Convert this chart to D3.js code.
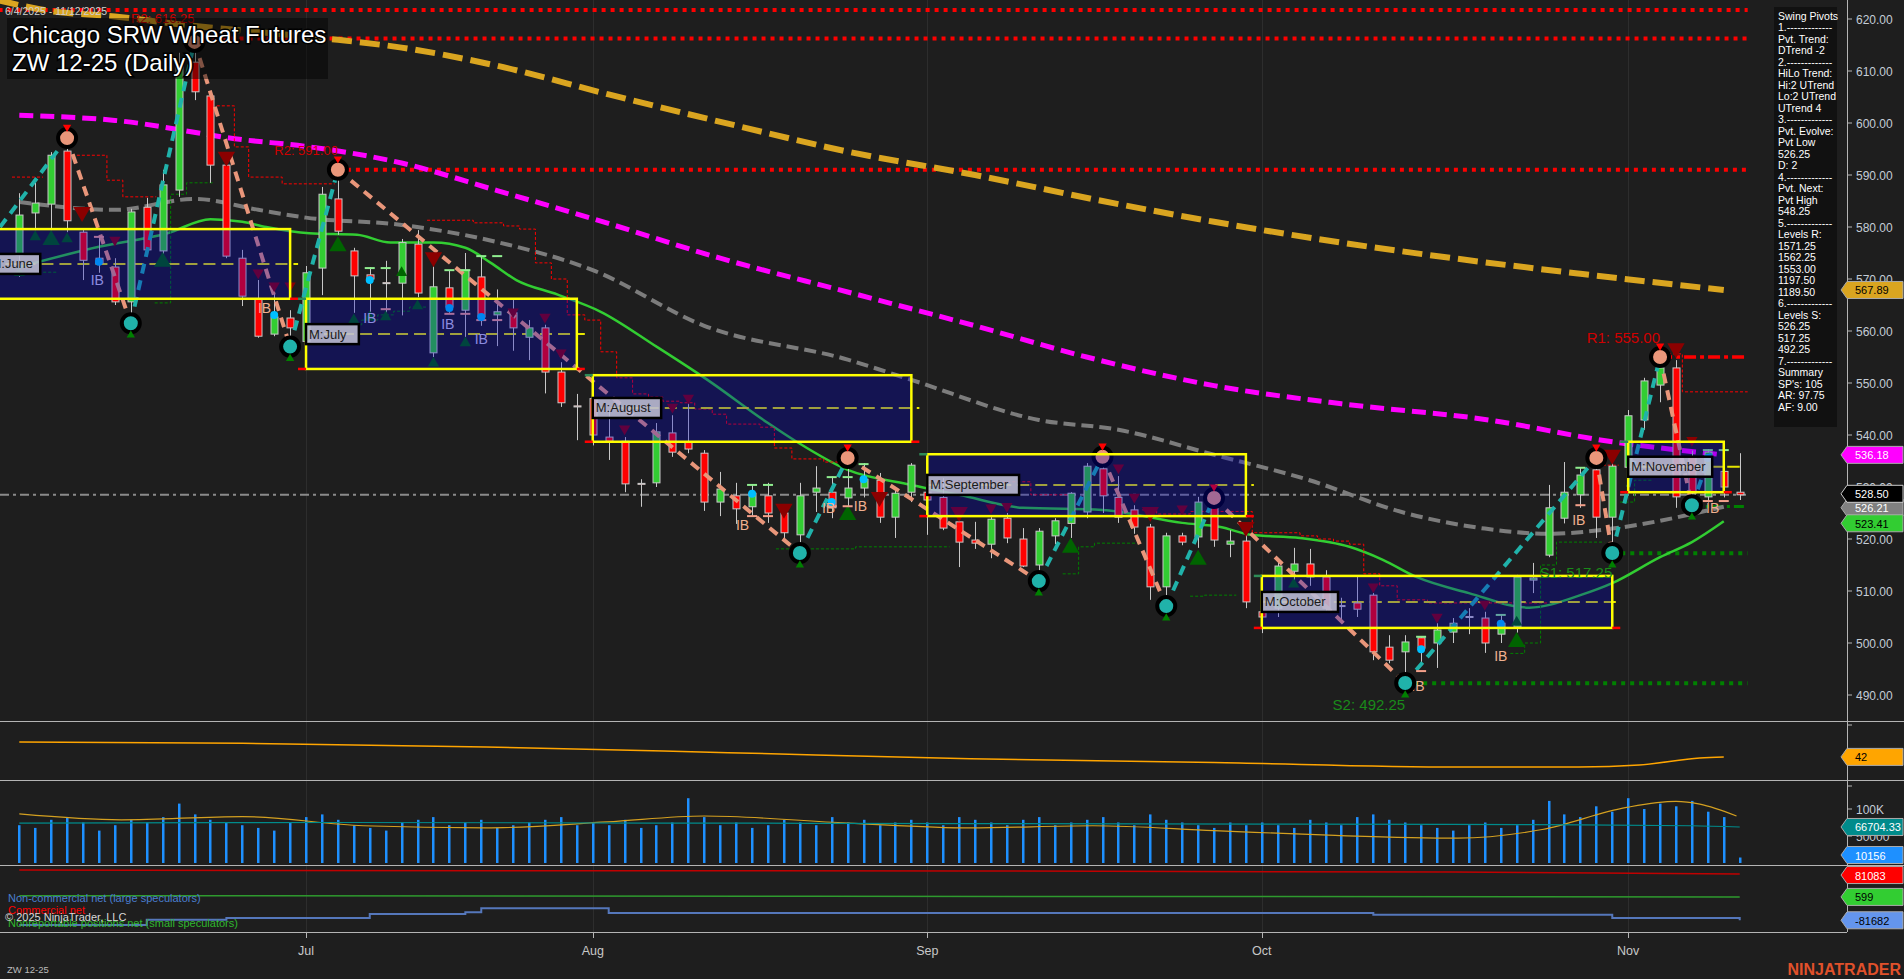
<!DOCTYPE html>
<html><head><meta charset="utf-8">
<script src="https://cdn.jsdelivr.net/npm/d3@7"></script>
<style>
body{margin:0;background:#1e1e1e;overflow:hidden}
svg{display:block}
text{font-family:"Liberation Sans",Arial,sans-serif}
</style></head>
<body><svg id="c" width="1904" height="979"></svg>
<script>
// ---------------- DATA ----------------
const opens=[574.6,582.7,584.4,594.6,579,574,572.3,565.6,583.8,575.4,
587.1,611.7,605.2,591.9,574,566.2,559.4,562.5,558,572.1,
585.4,575.4,570.8,569.3,569.2,576.7,555.8,568.3,564,570.4,
563.1,563.5,558.8,560.6,552.1,545.6,547,539.6,538.8,530.7,
530.8,540.4,538.7,536.5,527.1,528.3,526.2,528.3,525,520.8,
529,529,527.9,529.8,531.3,524.2,529,529,528,523.3,
519.8,519,524,520,515,520.6,523,525.2,533.5,528,
525.6,522.3,510.8,520.6,520.4,527,519,519.6,506,506.7,
513.8,515.2,512.7,507.2,507.7,509.2,499.2,498.3,501,500,
502.1,505.1,504.8,501.7,503.1,512.1,516.9,524,528.5,533.3,
524.2,533.8,542.9,549.6,552.9,535.8,528.1,533,529];
const highs=[586.5,588.5,594.4,596.5,579.5,577.9,574,583.5,585.6,591,
613.5,615,606,592.5,575.6,569.8,567.5,564,572.5,587.7,
590,576,572.3,573.5,577.7,579.4,572.5,571.7,575,574.2,
568,566,562.1,561.2,554,547.9,549,544.8,539.6,531.5,
542.3,543.8,546.3,537.1,532.9,530.8,530.4,530.8,526.2,530.8,
534,532,534.5,534.6,532.7,530,534.6,531,531.7,525.6,
523.3,524.2,525,522.1,522.1,524,529,534.6,536.5,532.1,
526.5,522.9,521.2,521.2,528.1,528,521.7,521,509.6,515.6,
518.3,518.1,514,508.7,512.7,509.6,501.5,501.5,501.2,503.8,
504.8,506.7,506,505.4,513.1,515.4,530.4,534.8,533.7,535.5,
535,544.8,551,555,554.4,537,537.3,538,536.5];
const lows=[570.4,579.4,579.4,579,569.8,571.2,565,562.5,574.6,574.8,
585.8,604.4,588.5,574,564.8,558.7,559,558,557.5,566.9,
578.5,563.5,563.5,563.5,563,566.5,555,563.5,558.8,561,
557.1,556.2,554.4,548,545.4,539,538,535.2,529,526.2,
530,535.8,536.5,525.4,524.4,522.9,524.5,523.1,519.5,518.5,
525.2,524,525,528,523.1,520.2,527.1,520.8,521.7,514.6,
518.1,516.3,519.2,514.6,513,519,520.2,524,525,523.1,
521,508.3,508.5,518.8,518.3,518.5,516.5,506.7,501.9,505,
512.1,511,505.8,504.6,505,496.7,496.1,493.5,496,495.2,
500,501.7,498.1,500,502,509.6,516.5,523,526,520.2,
518.5,532,541,546.3,526,526.5,527,528,527.5];
const closes=[582.3,584.6,593.8,581.2,573.6,573,565.6,582.9,575.6,588.1,
611.2,606,591.9,574.4,566.7,559,562.7,560.6,571.2,586.3,
579.2,570.6,570,569.2,577,567.3,568.5,564.6,571.7,562.7,
563.7,560.6,560.6,552.1,546.2,545.4,540,538.8,530.6,530.6,
540.6,536.7,537.3,527.1,529.6,525.8,528.8,525,521.2,528.3,
529.8,526,529.8,531.5,524.2,528.8,534.2,527.5,522.1,519.4,
519.2,523.8,520.2,514.8,521.5,523.5,528.8,534,528.3,524.2,
522.3,510.8,520.6,519.4,527.1,519.8,519.6,507.9,505,514.8,
515.2,512.7,506.7,507.1,506.5,498.3,496.7,500.2,499,502.5,
503.8,505,500,503.8,512.7,512.5,526,529,532.3,524.2,
534,543.7,550.4,552.9,528.1,528.8,536.7,530,528.5];
const volumes=[70,65,80,85,75,60,70,80,75,85,
110,90,80,75,70,65,60,75,85,90,
80,70,65,60,75,80,85,70,75,80,
65,70,75,80,85,70,75,70,80,65,
70,75,120,85,70,75,65,70,80,75,
70,85,75,80,70,75,80,75,70,85,
80,75,70,80,85,70,75,80,85,75,
70,90,80,75,70,65,75,70,75,70,
65,80,75,70,85,90,80,75,70,65,
60,70,75,65,70,80,115,90,85,105,
95,120,100,110,105,115,95,85,10.156];
const monthLabels=["Jul","Aug","Sep","Oct","Nov"];
const monthStarts=[18,36,57,78,101];
const priceTicks=[490,500,510,520,530,540,550,560,570,580,590,600,610,620];

// moving averages [bar, value]
const goldMA=[[-1.3,623.6],[2,621.5],[6,620.5],[10,619],[15,617.5],[20,616],[24,614.5],[30,611],[37,605.5],[45,599.5],[52,594.5],[60,590],[68,585],[75,581],[83,577],[90,574],[98,571],[107,567.89]];
const magentaMA=[[0,601.5],[6,600.5],[14,596.8],[18,595.5],[24,592.3],[30,587],[36,581.6],[44,574],[52,567.5],[60,561],[67,555],[75,549.5],[83,546],[92,543],[100,538.7],[107,536.18]];
const greyMA=[[0,584.8],[6,583.3],[11,585.4],[15,583.3],[18,581.8],[24,580.4],[30,577.1],[36,571.7],[43,561],[52,554.5],[56,550.6],[64,542.9],[69,541],[75,536.2],[81,531.3],[87,525],[92,522],[96,521],[100,522],[107,526.21]];
const greenMA=[[0,572.3],[5,576.2],[9.3,578.8],[12,581.5],[14,581],[15.5,580],[18.2,578.8],[21.2,578.5],[23.3,577],[26,577],[28,576],[29.6,573.1],[31.2,569.8],[33.8,567],[36.5,563.7],[40,557],[43.2,550.6],[47,542.3],[48.8,538.7],[52,533.3],[56,530.4],[59,528.5],[63,526],[68,525.6],[73,523.1],[75.4,522.3],[77.3,520.8],[80.4,520.2],[83.5,518.5],[85.6,516],[87.7,512.7],[91,509.6],[94.8,506.8],[98,509.2],[100,511.5],[103,516.5],[105,519.4],[107,523.41]];

// swing pivots [bar, price, type]
const pivots=[[-1.21,580,"S"],[3,597.1,"H"],[7,561.5,"L"],[11,615.6,"H"],[17,557,"L"],[20,591,"H"],[49,517.3,"L"],[52,535.6,"H"],[64,511.9,"L"],[68,535.8,"H"],[72,507.1,"L"],[75,527.9,"H"],[87,492.3,"L"],[99,535.6,"H"],[100,517.3,"L"],[103,555,"H"],[105,526.5,"L"],[106.2,536.5,"E"]];

// S/R levels
const levelNames=["","R2: 616.25","R2: 591.00","R1: 555.00","S1: 517.25","S2: 492.25"];
const levelValues=[621.75,616.25,591,555,517.25,492.25];
const levelStart=[-1.3,11,20,103,100,87];

// monthly boxes
const boxNames=["M:June","M:July","M:August","M:September","M:October","M:November"];
const boxStart=[-2,18,36,57,78,101];
const boxEnd=[17,35,56,77,100,107];
const boxHigh=[579.6,566.2,551.5,536.3,512.9,538.7];
const boxLow=[566.2,552.7,538.7,524.4,502.9,529];
const boxMid=[572.9,559.4,545.2,530.4,507.9,533.9];

// trailing step lines [fromBar, toBar, price]
const redSteps=[[-0.46,1.49,589.6],[3.3,5.5,593.8],[5.5,6.5,589],[6.5,8.6,585.8],[12.4,13.5,603.3],[13.5,14.4,595.4],[14.4,16.5,589.6],[16.5,19.8,588.3],[25.6,28.5,581.3],[28.5,30.4,580.8],[30.4,31.4,580.2],[31.4,32.4,579.6],[32.4,33.4,573.1],[33.4,34.4,570],[34.4,35.5,563.1],[35.5,36.5,562.1],[36.5,37.5,556],[37.5,38.5,551],[38.5,39.5,547.9],[39.5,40.4,547.3],[40.4,41.5,546.5],[41.5,42.4,546.2],[42.4,43.5,545],[43.5,44.4,544],[44.4,46.5,542.1],[46.5,47.4,541.5],[47.4,48.5,537.5],[48.5,50.5,535.4],[50.5,51.5,534.8],[57,63.5,531],[63.5,66,528.5],[70.5,71.4,525.6],[71.4,73.5,524.8],[73.5,77.4,525.3],[77.4,80.4,521.2],[80.4,81.5,520.6],[81.5,82.5,520],[82.5,83.5,519.6],[83.5,84.4,519],[84.4,85.4,513.3],[85.4,86.5,511],[86.5,88.4,508.3],[88.4,96,507.7],[99.4,100.4,534.2],[103.5,104.4,555.6],[104.4,108.5,548.3]];
const greenSteps=[[1.5,2.4,571.3],[8.5,9.5,565.4],[9.5,10.5,586.3],[10.5,12.2,588.5],[20.8,21.5,561.2],[21.5,22.5,562.1],[22.5,23.5,563.1],[23.5,24.5,563.8],[24.5,25.6,564.6],[47.5,52.5,518.1],[52.5,58.4,518.5],[65.5,66.5,513.3],[66.5,67.5,518.5],[67.5,70.4,519.2],[73.5,74.4,509],[74.4,76.4,509.2],[93.6,94.5,498],[94.5,95.5,500],[95.5,96.5,515],[96.5,99.5,519.4],[100.5,101.4,527.1],[101.4,102.5,531.3]];

// markers [bar, price, big]
const downTri=[[3.94,582.9,1],[6,577.5,0],[13,593.5,1],[15,571.2,0],[16,568.7,0],[17,568.7,0],[26,574.2,1],[31,563.7,0],[33,562.7,0],[34,555.8,0],[38,541.2,0],[41,545.4,0],[42,547.1,0],[48,525.8,1],[54,528.1,1],[59,525.2,1],[61,526,0],[62,526.3,0],[69,533.7,0],[70,528.1,0],[71,525.2,1],[73,525.8,0],[75,529,0],[77,522.3,1],[85,510.8,0],[89,505,0],[92,507.5,0],[100,536.2,1],[104,556.7,1],[105,539,0]];
const upTri=[[0,571.2,0],[1,578.1,0],[2,577.5,1],[3,577.7,0],[9,573.3,1],[20,576.3,1],[21,562.1,0],[22,562.7,0],[23,562.7,0],[24,571.2,0],[25,564.8,0],[26,553.8,0],[28,557.7,0],[52,524.6,1],[66,518.3,1],[74,516,1],[80,511.3,0],[94,500.2,1],[94,504,0]];
const cyanDots=[[5,573.3],[16,563.1],[22,569.8],[27,564.4],[29,562.7],[46,528.7],[51,527.1],[53,531.5],[88,498.8],[93,503.7],[106,535.6]];
const ibLabels=[[4.9,569.8],[15.4,564.4],[22,562.5],[26.9,561.3],[29,558.5],[45.4,522.7],[50.8,526],[52.8,526.3],[93,497.5],[97.9,523.7],[106.3,526],[87.8,491.7]];
const greenTicks=[[22,572.1],[23,572.1],[27,571.7],[28,571.7],[29,574.4],[30,574.4],[46,530.4],[47,530.4],[51,531.9],[52,531.9],[53,534.4],[88,501.2],[93,505.4],[98,533.7],[106,537.1],[107,537.1]];
const salmonTicks=[[5,578.1],[23,564.2],[27,563.3],[28,563.3],[29,562.1],[30,562.1],[46,524.4],[47,524.4],[51,526.3],[52,526.3],[88,494.6],[98,526.5],[106,527.3],[107,527.3]];

// lower panels
const adxPts=[[0,56.2],[14,55],[29.3,51.5],[44.5,46],[59.7,40.3],[75,36.7],[90.3,32.4],[97.9,32.4],[101.7,34.3],[105.5,41],[107,42]];
const volAvg=[[0,91],[6.4,80],[14,86],[21.6,69],[29.3,65],[36.9,76],[43,87],[52,74],[59.7,65],[67.4,69],[75,60],[82.6,51],[90.3,46],[95.6,62],[100.9,103],[104,114],[105.5,109],[107.8,87]];
const volTeal=[[0,74],[20,75],[40,74],[60,73],[80,72],[95,71],[105,69],[108,66.7]];
const cotCommercial=[[0,95000],[30,93000],[60,92000],[90,88000],[108,81083]];
const cotSmall=[[0,5000],[50,3000],[108,599]];
const cotLarge=[[0,-98700],[3.5,-98700],[8,-80000],[13,-74000],[21,-74000],[22,-60000],[27,-60000],[28,-53000],[29,-39000],[36,-39000],[37,-56000],[70,-56000],[85,-62000],[100,-74000],[108,-81682]];

const infoLines=["Swing Pivots","1.-------------","Pvt. Trend:","DTrend -2","2.-------------","HiLo Trend:","Hi:2 UTrend","Lo:2 UTrend","UTrend 4","3.-------------","Pvt. Evolve:","Pvt Low","526.25","D: 2","4.-------------","Pvt. Next:","Pvt High","548.25","5.-------------","Levels R:","1571.25","1562.25","1553.00","1197.50","1189.50","6.-------------","Levels S:","526.25","517.25","492.25","7.-------------","Summary","SP's: 105","AR: 97.75","AF: 9.00"];

// ---------------- DRAW ----------------
const W=1904,H=979,AX=1847;
const svg=d3.select("#c");
svg.append("rect").attr("width",W).attr("height",H).attr("fill","#1e1e1e");
const defs=svg.append("defs");
defs.append("clipPath").attr("id","cp").append("rect").attr("x",0).attr("y",0).attr("width",AX).attr("height",721);
defs.append("clipPath").attr("id","cl").append("rect").attr("x",0).attr("y",722).attr("width",AX).attr("height",210);

const x=d3.scaleLinear().domain([0,108]).range([19.3,1739.7]);
const y=d3.scaleLinear().domain([490,620]).range([695,19]);
const lineP=d3.line().x(d=>x(d[0])).y(d=>y(d[1])).curve(d3.curveMonotoneX);

// grid verticals
svg.append("g").selectAll("line").data(monthStarts).join("line")
 .attr("x1",d=>Math.round(x(d))+0.5).attr("x2",d=>Math.round(x(d))+0.5).attr("y1",0).attr("y2",932)
 .attr("stroke","#2d2d2d").attr("stroke-width",1);

const gp=svg.append("g").attr("clip-path","url(#cp)");

// price line
gp.append("line").attr("x1",0).attr("x2",1746).attr("y1",y(528.5)).attr("y2",y(528.5))
 .attr("stroke","#8a8a8a").attr("stroke-width",2).attr("stroke-dasharray","9,4,3,4");

// levels
levelValues.forEach((v,i)=>{
  const col=v>530?"#ff0000":"#008000";
  const dash=(i===3)?"12,4,4,4":"4,5";
  gp.append("line").attr("x1",x(levelStart[i])).attr("x2",x(108.5)).attr("y1",y(v)).attr("y2",y(v))
   .attr("stroke",col).attr("stroke-width",i===3?3.5:4).attr("stroke-dasharray",dash);
});
gp.append("line").attr("x1",x(105)).attr("x2",x(108.5)).attr("y1",y(526.25)).attr("y2",y(526.25))
 .attr("stroke","#008000").attr("stroke-width",3).attr("stroke-dasharray","10,4,3,4");

// MAs
gp.append("path").datum(goldMA).attr("d",lineP).attr("fill","none").attr("stroke","#DAA520").attr("stroke-width",6).attr("stroke-dasharray","20,8");
gp.append("path").datum(magentaMA).attr("d",lineP).attr("fill","none").attr("stroke","#FF00FF").attr("stroke-width",5).attr("stroke-dasharray","14,7");
gp.append("path").datum(greyMA).attr("d",lineP).attr("fill","none").attr("stroke","#7c7c7c").attr("stroke-width",4).attr("stroke-dasharray","12,6");
gp.append("path").datum(greenMA).attr("d",lineP).attr("fill","none").attr("stroke","#32CD32").attr("stroke-width",2.5);

// step lines
function stepPath(steps){
  let d="";
  steps.forEach((s,i)=>{
    const prev=steps[i-1];
    if(prev && Math.abs(prev[1]-s[0])<0.05){ d+=`L${x(s[0])},${y(s[2])}`; }
    else d+=`M${x(s[0])},${y(s[2])}`;
    d+=`L${x(s[1])},${y(s[2])}`;
  });
  return d;
}
gp.append("path").attr("d",stepPath(redSteps)).attr("fill","none").attr("stroke","#ff0000").attr("stroke-width",1).attr("stroke-dasharray","3,2");
gp.append("path").attr("d",stepPath(greenSteps)).attr("fill","none").attr("stroke","#008000").attr("stroke-width",1).attr("stroke-dasharray","3,2");

// title box (under candles)
svg.append("rect").attr("x",7).attr("y",18).attr("width",321).attr("height",61).attr("fill","rgba(0,0,0,0.45)");

// box mid dashed lines (under overlay)
boxNames.forEach((n,i)=>{
  gp.append("line").attr("x1",x(boxStart[i])).attr("x2",x(boxEnd[i])+(i===5?16:8)).attr("y1",y(boxMid[i])).attr("y2",y(boxMid[i]))
   .attr("stroke","#e6e600").attr("stroke-width",2).attr("stroke-dasharray",i===5?"30,3":"12,6");
});

// candles
const bars=d3.range(opens.length);
const gc=gp.append("g");
gc.selectAll("line").data(bars).join("line")
 .attr("x1",i=>Math.round(x(i))+0.5).attr("x2",i=>Math.round(x(i))+0.5)
 .attr("y1",i=>y(highs[i])).attr("y2",i=>y(lows[i])).attr("stroke","#c8c8c8").attr("stroke-width",1);
gc.selectAll("rect").data(bars).join("rect")
 .attr("x",i=>Math.round(x(i))-3).attr("width",7)
 .attr("y",i=>y(Math.max(opens[i],closes[i])))
 .attr("height",i=>Math.max(1,Math.abs(y(opens[i])-y(closes[i]))))
 .attr("fill",i=>closes[i]>=opens[i]?"#32CD32":"#FF0000")
 .attr("stroke","#c8c8c8").attr("stroke-width",1);

// zigzag
for(let k=0;k<pivots.length-1;k++){
  const a=pivots[k],b=pivots[k+1];
  const up=b[1]>a[1];
  gp.append("line").attr("x1",x(a[0])).attr("y1",y(a[1])).attr("x2",x(b[0])).attr("y2",y(b[1]))
   .attr("stroke",up?"#20B2AA":"#E9967A").attr("stroke-width",4).attr("stroke-dasharray","10,7");
}

// markers
const tri=d3.symbol().type(d3.symbolTriangle);
gp.append("g").selectAll("path").data(downTri).join("path")
 .attr("d",d=>tri.size(d[2]?130:55)())
 .attr("transform",d=>`translate(${x(d[0])},${y(d[1])}) rotate(180)`).attr("fill","#8B0000");
gp.append("g").selectAll("path").data(upTri).join("path")
 .attr("d",d=>tri.size(d[2]?130:55)())
 .attr("transform",d=>`translate(${x(d[0])},${y(d[1])})`).attr("fill","#006400");
gp.append("g").selectAll("line").data(greenTicks).join("line")
 .attr("x1",d=>x(d[0])-5).attr("x2",d=>x(d[0])+5).attr("y1",d=>y(d[1])).attr("y2",d=>y(d[1]))
 .attr("stroke","#90EE90").attr("stroke-width",2);
gp.append("g").selectAll("line").data(salmonTicks).join("line")
 .attr("x1",d=>x(d[0])-5).attr("x2",d=>x(d[0])+5).attr("y1",d=>y(d[1])).attr("y2",d=>y(d[1]))
 .attr("stroke","#F4A08A").attr("stroke-width",2);
gp.append("g").selectAll("circle").data(cyanDots).join("circle")
 .attr("cx",d=>x(d[0])).attr("cy",d=>y(d[1])).attr("r",4).attr("fill","#00BFFF");
function inBox(b,p){return boxNames.some((n,i)=>b>=boxStart[i]&&b<=boxEnd[i]&&p<=boxHigh[i]&&p>=boxLow[i]);}
gp.append("g").selectAll("text").data(ibLabels).join("text")
 .attr("x",d=>x(d[0])).attr("y",d=>y(d[1])+5).attr("text-anchor","middle").attr("font-size",14)
 .attr("fill",d=>inBox(d[0],d[1])?"#c8c8e8":"#f0b090").text("IB");

// pivot circles
const pv=pivots.filter(p=>p[2]==="H"||p[2]==="L");
gp.append("g").selectAll("circle").data(pv).join("circle")
 .attr("cx",d=>x(d[0])).attr("cy",d=>y(d[1])).attr("r",9)
 .attr("fill",d=>d[2]==="H"?"#E9967A":"#20B2AA").attr("stroke","#000").attr("stroke-width",4);
gp.append("g").selectAll("path").data(pv).join("path")
 .attr("d",tri.size(30)())
 .attr("transform",d=>d[2]==="H"?`translate(${x(d[0])},${y(d[1])-11}) rotate(180)`:`translate(${x(d[0])},${y(d[1])+12})`)
 .attr("fill",d=>d[2]==="H"?"#ff0000":"#008000");

// box overlays
boxNames.forEach((n,i)=>{
  gp.append("rect").attr("x",x(boxStart[i])).attr("y",y(boxHigh[i])).attr("width",x(boxEnd[i])-x(boxStart[i]))
   .attr("height",y(boxLow[i])-y(boxHigh[i])).attr("fill","rgba(0,0,205,0.3)");
});
boxNames.forEach((n,i)=>{
  gp.append("rect").attr("x",x(boxStart[i])).attr("y",y(boxHigh[i])).attr("width",x(boxEnd[i])-x(boxStart[i]))
   .attr("height",y(boxLow[i])-y(boxHigh[i])).attr("fill","none").attr("stroke","#FFFF00").attr("stroke-width",2.5);
  gp.append("line").attr("x1",x(boxEnd[i])).attr("x2",x(boxEnd[i])+8).attr("y1",y(boxLow[i])).attr("y2",y(boxLow[i])).attr("stroke","#ff0000").attr("stroke-width",2.5);
  gp.append("line").attr("x1",x(boxStart[i])-8).attr("x2",x(boxStart[i])).attr("y1",y(boxLow[i])).attr("y2",y(boxLow[i])).attr("stroke","#ff0000").attr("stroke-width",2.5);
  gp.append("line").attr("x1",x(boxStart[i])-8).attr("x2",x(boxStart[i])).attr("y1",y(boxHigh[i])).attr("y2",y(boxHigh[i])).attr("stroke","#2e8b57").attr("stroke-width",2.5);
  const w=n.length*7.8+6;
  const lx=x(boxStart[i]), ly=y(boxMid[i]);
  gp.append("rect").attr("x",lx).attr("y",ly-10).attr("width",w).attr("height",20)
   .attr("fill","rgba(196,196,214,0.85)").attr("stroke","#000").attr("stroke-width",2.5);
  gp.append("text").attr("x",lx+3).attr("y",ly+4.5).attr("font-family","'Liberation Mono',monospace").attr("font-size",13)
   .attr("fill","#1a1a1a").text(n);
});

// level labels
const lvlOff=[0,-16,-15,-14,25,27];
levelNames.forEach((n,i)=>{
  if(!n) return;
  gp.append("text").attr("x",x(levelStart[i])).attr("y",y(levelValues[i])+lvlOff[i]).attr("text-anchor","end")
   .attr("font-size",i>=3?15:13).attr("fill",levelValues[i]>530?"#d00000":"#1a8a1a").text(n);
});

// title
svg.append("text").attr("x",5).attr("y",15).attr("font-size",10.5).attr("fill","#cfcfcf").text("6/4/2025 - 11/12/2025");
[["Chicago SRW Wheat Futures",43],["ZW 12-25 (Daily)",71]].forEach(t=>{
  svg.append("text").attr("x",12).attr("y",t[1]).attr("font-size",24).attr("fill","#fff")
   .attr("stroke","#000").attr("stroke-width",3).attr("paint-order","stroke").text(t[0]);
});

// info panel
svg.append("rect").attr("x",1774).attr("y",7).attr("width",63).attr("height",420).attr("fill","#111");
svg.append("g").selectAll("text").data(infoLines).join("text")
 .attr("x",1778).attr("y",(d,i)=>19.5+i*11.5).attr("font-size",10.5).attr("fill","#fff").text(d=>d);

// lower panels
const yA=d3.scaleLinear().domain([20,75]).range([780,722.25]);
const yV=d3.scaleLinear().domain([0,100]).range([863,809]);
const yC=d3.scaleLinear().domain([-123000,113000]).range([932,865]);
const gl=svg.append("g").attr("clip-path","url(#cl)");
gl.append("path").datum(adxPts).attr("d",d3.line().x(d=>x(d[0])).y(d=>yA(d[1])).curve(d3.curveMonotoneX))
 .attr("fill","none").attr("stroke","#FFA500").attr("stroke-width",1.5);
gl.append("g").selectAll("rect").data(bars).join("rect")
 .attr("x",i=>Math.round(x(i))-1).attr("width",2.5).attr("y",i=>yV(volumes[i])).attr("height",i=>863-yV(volumes[i]))
 .attr("fill","#1E90FF");
gl.append("path").datum(volAvg).attr("d",d3.line().x(d=>x(d[0])).y(d=>yV(d[1])).curve(d3.curveMonotoneX))
 .attr("fill","none").attr("stroke","#D4A020").attr("stroke-width",1.2);
gl.append("path").datum(volTeal).attr("d",d3.line().x(d=>x(d[0])).y(d=>yV(d[1])).curve(d3.curveMonotoneX))
 .attr("fill","none").attr("stroke","#008B8B").attr("stroke-width",1.2);
const lc=d3.line().x(d=>x(d[0])).y(d=>yC(d[1]));
gl.append("path").datum(cotCommercial).attr("d",lc).attr("fill","none").attr("stroke","#c00000").attr("stroke-width",1.5);
gl.append("path").datum(cotSmall).attr("d",lc).attr("fill","none").attr("stroke","#2e9a2e").attr("stroke-width",1.5);
gl.append("path").datum(cotLarge).attr("d",lc.curve(d3.curveStepAfter)).attr("fill","none").attr("stroke","#5577bb").attr("stroke-width",2);

// separators & axis
[721.5,780.5,865.5].forEach(v=>svg.append("line").attr("x1",0).attr("x2",W).attr("y1",v).attr("y2",v).attr("stroke","#b4b4b4").attr("stroke-width",1));
svg.append("line").attr("x1",0).attr("x2",AX).attr("y1",932.5).attr("y2",932.5).attr("stroke","#b4b4b4");
svg.append("line").attr("x1",AX+0.5).attr("x2",AX+0.5).attr("y1",0).attr("y2",932).attr("stroke","#b4b4b4");
const axG=svg.append("g");
priceTicks.forEach(p=>{
  axG.append("line").attr("x1",AX).attr("x2",AX+5).attr("y1",y(p)).attr("y2",y(p)).attr("stroke","#b4b4b4");
  axG.append("text").attr("x",1856).attr("y",y(p)+4.5).attr("font-size",12).attr("fill","#c4ccd6").text(p.toFixed(2));
});
[[725,""],[yV(100),"100K"],[yV(50),"50000"],[786,""]].forEach(t=>{
  axG.append("line").attr("x1",AX).attr("x2",AX+5).attr("y1",t[0]).attr("y2",t[0]).attr("stroke","#b4b4b4");
  if(t[1]) axG.append("text").attr("x",1856).attr("y",t[0]+4.5).attr("font-size",12).attr("fill","#c4ccd6").text(t[1]);
});
// x axis months
monthStarts.forEach((m,i)=>{
  svg.append("line").attr("x1",Math.round(x(m))+0.5).attr("x2",Math.round(x(m))+0.5).attr("y1",932).attr("y2",938).attr("stroke","#b4b4b4");
  svg.append("text").attr("x",x(m)).attr("y",955).attr("text-anchor","middle").attr("font-size",12.5).attr("fill","#c8c8c8").text(monthLabels[i]);
});

// flags
function flag(yc,txt,fill,tc,stroke){
  svg.append("path").attr("d",`M1841,${yc}L1847,${yc-8.5}L1903,${yc-8.5}L1903,${yc+8.5}L1847,${yc+8.5}Z`)
   .attr("fill",fill).attr("stroke",stroke||"#aaa").attr("stroke-width",1);
  svg.append("text").attr("x",1855).attr("y",yc+4.5).attr("font-size",11).attr("fill",tc).text(txt);
}
flag(y(567.89),"567.89","#DAA520","#000");
flag(y(536.18),"536.18","#FF00FF","#fff");
flag(y(526.21)+1,"526.21","#808080","#fff");
flag(y(528.5)-1,"528.50","#000","#fff","#ccc");
flag(y(523.41)+2,"523.41","#32CD32","#000");
flag(yA(42),"42","#FFA500","#000");
flag(yV(66.704),"66704.33","#008B8B","#fff");
flag(yV(14.8),"10156","#1E90FF","#fff");
flag(yC(81083)+1,"81083","#FF0000","#fff");
flag(yC(599),"599","#32CD32","#000");
flag(yC(-81682),"-81682","#6495ED","#000");

// legends
svg.append("text").attr("x",8).attr("y",902).attr("font-size",11).attr("fill","#4a7fd0").text("Non-commercial net (large speculators)");
svg.append("text").attr("x",8).attr("y",914).attr("font-size",11).attr("fill","#ff0000").text("Commercial net");
svg.append("text").attr("x",8).attr("y",927).attr("font-size",11).attr("fill","#2eb82e").text("Nonreportable positions net (small speculators)");
svg.append("text").attr("x",5).attr("y",921).attr("font-size",11).attr("fill","#d8d8d8").text("© 2025 NinjaTrader, LLC");
svg.append("text").attr("x",7).attr("y",973).attr("font-size",9.5).attr("fill","#bbb").text("ZW 12-25");
svg.append("text").attr("x",1901).attr("y",975).attr("text-anchor","end").attr("font-size",16).attr("font-weight","bold").attr("fill","#E0512B").text("NINJATRADER");
</script></body></html>
